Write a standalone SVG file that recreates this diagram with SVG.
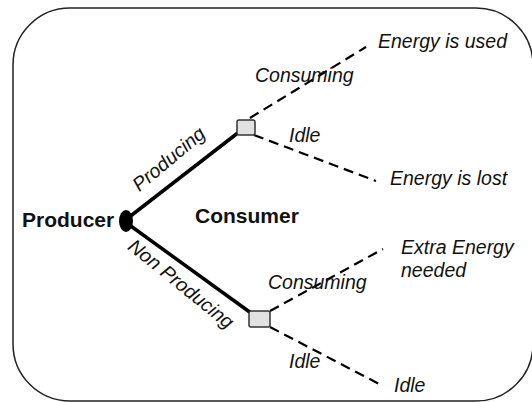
<svg xmlns="http://www.w3.org/2000/svg" width="532" height="402" viewBox="0 0 532 402">
<style>
.lbl{font-family:"Liberation Sans",Arial,sans-serif;font-style:italic;font-size:19.5px;fill:#111}
.bold{font-family:"Liberation Sans",Arial,sans-serif;font-weight:bold;font-size:21px;fill:#111}
.solid{stroke:#000;stroke-width:3.5;fill:none}
.dash{stroke:#000;stroke-width:2.2;stroke-dasharray:10 6;fill:none}
.sq{fill:#e2e2e2;stroke:#333;stroke-width:1.5}
</style>
<rect x="13" y="8" width="520" height="393" rx="57" ry="57" fill="#fff" stroke="#222" stroke-width="1.5"/>
<g id="connectors">
<line class="solid" x1="128" y1="218" x2="239" y2="132"/>
<line class="solid" x1="128" y1="224" x2="251" y2="313"/>
<line class="dash" x1="250" y1="118" x2="366" y2="47"/>
<line class="dash" x1="254" y1="135" x2="376" y2="181"/>
<line class="dash" x1="270" y1="311" x2="383" y2="249"/>
<line class="dash" x1="270" y1="327" x2="383" y2="386"/>
<text class="lbl" transform="translate(173,164) rotate(-40)" text-anchor="middle">Producing</text>
<text class="lbl" transform="translate(177,289) rotate(39)" text-anchor="middle">Non Producing</text>
<text class="lbl" x="255" y="82">Consuming</text>
<text class="lbl" x="289" y="142">Idle</text>
<text class="lbl" x="268" y="289">Consuming</text>
<text class="lbl" x="289" y="368">Idle</text>
</g>
<g id="producer">
<ellipse cx="126" cy="221" rx="7" ry="11" fill="#000"/>
<text class="bold" x="22" y="227">Producer</text>
</g>
<g id="consumer">
<text class="bold" x="195" y="223">Consumer</text>
</g>
<g id="node-top">
<rect class="sq" x="237" y="120" width="18" height="15" rx="2"/>
</g>
<g id="node-bottom">
<rect class="sq" x="249" y="311" width="21" height="16" rx="2"/>
</g>
<g id="out-used"><text class="lbl" x="378" y="48">Energy is used</text></g>
<g id="out-lost"><text class="lbl" x="390" y="185">Energy is lost</text></g>
<g id="out-extra"><text class="lbl" x="401" y="254">Extra Energy</text><text class="lbl" x="401" y="277">needed</text></g>
<g id="out-idle"><text class="lbl" x="394" y="392">Idle</text></g>
</svg>
